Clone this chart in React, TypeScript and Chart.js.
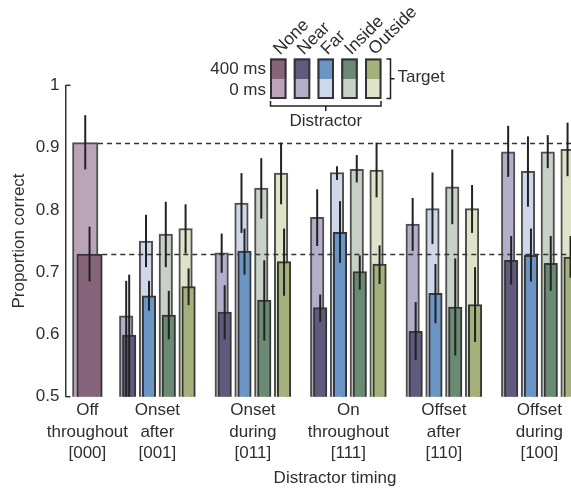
import React, { useEffect, useRef } from "react";
import { Chart, registerables } from "chart.js";

Chart.register(...registerables);

// ---------- data ----------
const timingLabels: string[][] = [
  ["Off", "throughout", "[000]"],
  ["Onset", "after", "[001]"],
  ["Onset", "during", "[011]"],
  ["On", "throughout", "[111]"],
  ["Offset", "after", "[110]"],
  ["Offset", "during", "[100]"],
];
const distractors = ["None", "Near", "Far", "Inside", "Outside"];
const targetDelays = ["400 ms", "0 ms"];
const yTickValues = [0.5, 0.6, 0.7, 0.8, 0.9, 1];

// None (only "Off throughout")
const none0 = [0.908];
const none0Lo = [0.865];
const none0Hi = [0.952];
const none400 = [0.729];
const none400Lo = [0.685];
const none400Hi = [0.773];

// Near / Far / Inside / Outside for groups [001],[011],[111],[110],[100]
const near0 = [0.630, 0.731, 0.788, 0.777, 0.893];
const near0Lo = [0.500, 0.699, 0.742, 0.734, 0.853];
const near0Hi = [0.686, 0.762, 0.833, 0.819, 0.935];
const near400 = [0.599, 0.636, 0.643, 0.605, 0.719];
const near400Lo = [0.500, 0.592, 0.620, 0.559, 0.680];
const near400Hi = [0.696, 0.679, 0.664, 0.652, 0.758];

const far0 = [0.750, 0.811, 0.860, 0.802, 0.862];
const far0Lo = [0.708, 0.763, 0.848, 0.745, 0.805];
const far0Hi = [0.792, 0.859, 0.870, 0.860, 0.918];
const far400 = [0.662, 0.734, 0.764, 0.666, 0.727];
const far400Lo = [0.638, 0.696, 0.715, 0.618, 0.685];
const far400Hi = [0.686, 0.770, 0.814, 0.713, 0.770];

const inside0 = [0.761, 0.835, 0.865, 0.837, 0.893];
const inside0Lo = [0.708, 0.786, 0.844, 0.777, 0.867];
const inside0Hi = [0.813, 0.883, 0.888, 0.897, 0.920];
const inside400 = [0.631, 0.655, 0.701, 0.644, 0.714];
const inside400Lo = [0.592, 0.590, 0.672, 0.566, 0.670];
const inside400Hi = [0.670, 0.719, 0.727, 0.722, 0.758];

const outside0 = [0.770, 0.859, 0.864, 0.802, 0.897];
const outside0Lo = [0.730, 0.809, 0.820, 0.763, 0.854];
const outside0Hi = [0.809, 0.908, 0.908, 0.840, 0.940];
const outside400 = [0.677, 0.717, 0.713, 0.648, 0.724];
const outside400Lo = [0.647, 0.662, 0.681, 0.588, 0.691];
const outside400Hi = [0.706, 0.770, 0.743, 0.708, 0.758];

// ---------- styles / layout ----------
const darkColors = ["#86647a", "#5f5a7e", "#6a95c5", "#6b8a73", "#a4b17b"];
const lightColors = ["#bba4b8", "#b4aecb", "#cfd8ea", "#c8d1c7", "#dfe3c8"];
const FONT = "'Liberation Sans', Arial, Helvetica, sans-serif";
const TEXT = "#2e2e2e";
const groupX = [0.267, 1, 2, 3, 4, 5];
const slotStep = 0.2073;
const pairShift = 0.0157;
const noneShift = 0.0225;

type Series = { idx: number; groups: number[]; v0: number[]; lo0: number[]; hi0: number[]; v4: number[]; lo4: number[]; hi4: number[] };
const allSeries: Series[] = [
  { idx: 0, groups: [0], v0: none0, lo0: none0Lo, hi0: none0Hi, v4: none400, lo4: none400Lo, hi4: none400Hi },
  { idx: 1, groups: [1, 2, 3, 4, 5], v0: near0, lo0: near0Lo, hi0: near0Hi, v4: near400, lo4: near400Lo, hi4: near400Hi },
  { idx: 2, groups: [1, 2, 3, 4, 5], v0: far0, lo0: far0Lo, hi0: far0Hi, v4: far400, lo4: far400Lo, hi4: far400Hi },
  { idx: 3, groups: [1, 2, 3, 4, 5], v0: inside0, lo0: inside0Lo, hi0: inside0Hi, v4: inside400, lo4: inside400Lo, hi4: inside400Hi },
  { idx: 4, groups: [1, 2, 3, 4, 5], v0: outside0, lo0: outside0Lo, hi0: outside0Hi, v4: outside400, lo4: outside400Lo, hi4: outside400Hi },
];

function xPos(group: number, d: number, dark: boolean): number {
  if (d === 0) return groupX[group] + (dark ? noneShift : -noneShift);
  return groupX[group] + (d - 1 - 1.5) * slotStep + (dark ? pairShift : -pairShift);
}

function buildDatasets() {
  const out: any[] = [];
  for (const s of allSeries) {
    const thick = s.idx === 0 ? 25.5 : 13.5;
    out.push({
      label: distractors[s.idx] + " 0 ms",
      data: s.v0.map((v, i) => ({ x: xPos(s.groups[i], s.idx, false), y: v })),
      errLo: s.lo0,
      errHi: s.hi0,
      isDark: false,
      isNone: s.idx === 0,
      backgroundColor: lightColors[s.idx],
      borderColor: "rgba(60,60,60,0.9)",
      borderWidth: 2,
      borderSkipped: false,
      barThickness: thick,
      grouped: false,
      order: 2,
    });
  }
  for (const s of allSeries) {
    const thick = s.idx === 0 ? 25.5 : 13.5;
    out.push({
      label: distractors[s.idx] + " 400 ms",
      data: s.v4.map((v, i) => ({ x: xPos(s.groups[i], s.idx, true), y: v })),
      errLo: s.lo4,
      errHi: s.hi4,
      isDark: true,
      isNone: s.idx === 0,
      backgroundColor: darkColors[s.idx],
      borderColor: "#363636",
      borderWidth: 2,
      borderSkipped: false,
      barThickness: thick,
      grouped: false,
      order: 1,
    });
  }
  return out;
}

function drawDashes(chart: any) {
  const { ctx, chartArea, scales } = chart;
  ctx.save();
  ctx.strokeStyle = "#333";
  ctx.lineWidth = 1.5;
  ctx.setLineDash([5, 4]);
  chart.data.datasets.forEach((ds: any, di: number) => {
    if (!ds.isNone) return;
    const el = chart.getDatasetMeta(di).data[0];
    if (!el) return;
    const y = Math.round(scales.y.getPixelForValue(ds.data[0].y)) + 0.5;
    ctx.beginPath();
    ctx.moveTo(el.x + el.width / 2, y);
    ctx.lineTo(chartArea.right, y);
    ctx.stroke();
  });
  ctx.restore();
}

const overlayPlugin = {
  id: "overlay",
  beforeDatasetsDraw(chart: any) {
    chart.$dashDone = false;
  },
  beforeDatasetDraw(chart: any, args: any) {
    const ds = chart.data.datasets[args.index];
    if (ds.isDark && !chart.$dashDone) {
      drawDashes(chart);
      chart.$dashDone = true;
    }
  },
  afterDatasetsDraw(chart: any) {
    const { ctx, scales, chartArea } = chart;
    ctx.save();
    ctx.strokeStyle = "#222";
    ctx.lineWidth = 2;
    chart.data.datasets.forEach((ds: any, di: number) => {
      const meta = chart.getDatasetMeta(di);
      meta.data.forEach((el: any, i: number) => {
        const y1 = scales.y.getPixelForValue(ds.errLo[i]);
        const y2 = scales.y.getPixelForValue(ds.errHi[i]);
        ctx.beginPath();
        ctx.moveTo(el.x, Math.min(y1, chartArea.bottom));
        ctx.lineTo(el.x, y2);
        ctx.stroke();
      });
    });
    // inward tick stubs at axis ends
    ctx.strokeStyle = "#333";
    ctx.lineWidth = 1.5;
    const ax = chartArea.left;
    [scales.y.getPixelForValue(1), scales.y.getPixelForValue(0.5)].forEach((py: number) => {
      ctx.beginPath();
      ctx.moveTo(ax, py);
      ctx.lineTo(ax + 4.5, py);
      ctx.stroke();
    });
    ctx.restore();
  },
  afterDraw(chart: any) {
    const ctx = chart.ctx;
    const left = 270;
    const step = 23.75;
    const w = 16.5;
    const top = 58.5;
    const mid = 79;
    const bot = 99;
    ctx.save();
    ctx.font = `17px ${FONT}`;
    ctx.fillStyle = TEXT;
    for (let i = 0; i < distractors.length; i++) {
      const x = left + i * step;
      ctx.fillStyle = darkColors[i];
      ctx.fillRect(x, top, w, mid - top);
      ctx.fillStyle = lightColors[i];
      ctx.fillRect(x, mid, w, bot - mid);
      ctx.strokeStyle = "#333";
      ctx.lineWidth = 2;
      ctx.strokeRect(x + 1, top + 1, w - 2, bot - top - 2);
      ctx.save();
      ctx.translate(x + 10, top - 3);
      ctx.rotate(-Math.PI / 4);
      ctx.fillStyle = TEXT;
      ctx.textAlign = "left";
      ctx.textBaseline = "alphabetic";
      ctx.font = `17.5px ${FONT}`;
      ctx.fillText(distractors[i], 0, 0);
      ctx.restore();
    }
    ctx.fillStyle = TEXT;
    ctx.textAlign = "right";
    ctx.textBaseline = "middle";
    ctx.fillText(targetDelays[0], 266, 69.5);
    ctx.fillText(targetDelays[1], 266, 90);
    // right bracket (Target)
    const right = left + (distractors.length - 1) * step + w;
    ctx.strokeStyle = "#222";
    ctx.lineWidth = 1.5;
    ctx.beginPath();
    ctx.moveTo(right + 5, top + 0.5);
    ctx.lineTo(right + 9, top + 0.5);
    ctx.lineTo(right + 9, bot - 0.5);
    ctx.lineTo(right + 5, bot - 0.5);
    ctx.moveTo(right + 9, (top + bot) / 2);
    ctx.lineTo(right + 13, (top + bot) / 2);
    ctx.stroke();
    ctx.textAlign = "left";
    ctx.fillText("Target", right + 16, 77.5);
    // bottom bracket (Distractor)
    const cx = (left + right) / 2;
    ctx.beginPath();
    ctx.moveTo(left + 0.5, bot + 2);
    ctx.lineTo(left + 0.5, bot + 7);
    ctx.lineTo(right - 0.5, bot + 7);
    ctx.lineTo(right - 0.5, bot + 2);
    ctx.moveTo(cx, bot + 7);
    ctx.lineTo(cx, bot + 12);
    ctx.stroke();
    ctx.textAlign = "center";
    ctx.fillText("Distractor", cx, 121.5);
    ctx.restore();
  },
};

export default function App() {
  const ref = useRef<HTMLCanvasElement | null>(null);
  useEffect(() => {
    if (!ref.current) return;
    Chart.defaults.font.family = FONT;
    Chart.defaults.color = TEXT;
    const chart = new Chart(ref.current, {
      type: "bar",
      data: { datasets: buildDatasets() as any },
      options: {
        animation: false,
        responsive: false,
        layout: { padding: { top: 85.3, left: 0, right: 0, bottom: 0 } },
        plugins: { legend: { display: false }, tooltip: { enabled: false } },
        scales: {
          x: {
            type: "linear",
            min: 0.043,
            max: 5.677,
            offset: false,
            grid: { display: false, drawTicks: false },
            border: { display: false },
            afterBuildTicks: (s: any) => {
              s.ticks = groupX.map((v) => ({ value: v }));
            },
            afterFit: (s: any) => {
              s.height = 93.3;
              s.paddingLeft = 0;
              s.paddingRight = 0;
            },
            ticks: {
              autoSkip: false,
              maxRotation: 0,
              minRotation: 0,
              padding: 3.4,
              color: TEXT,
              font: { size: 17, lineHeight: 1.25 },
              callback: (_v: any, i: number) => timingLabels[i],
            },
            title: {
              display: true,
              text: "Distractor timing",
              color: TEXT,
              font: { size: 17, lineHeight: 1.2 },
              padding: { top: 0, bottom: 1.5 },
            },
          } as any,
          y: {
            type: "linear",
            min: 0.5,
            max: 1,
            grid: { display: false, drawTicks: false },
            border: { display: true, color: "#333", width: 1.5 },
            afterBuildTicks: (s: any) => {
              s.ticks = yTickValues.map((v) => ({ value: v }));
            },
            afterFit: (s: any) => {
              s.width = 66;
            },
            ticks: {
              padding: 6.5,
              color: TEXT,
              font: { size: 17 },
              callback: (v: any) => (Math.abs(Number(v) - 1) < 1e-9 ? "1" : Number(v).toFixed(1)),
            },
            title: {
              display: true,
              text: "Proportion correct",
              color: TEXT,
              font: { size: 17, lineHeight: 1.2 },
              padding: { top: 9.2, bottom: 0 },
            },
          } as any,
        },
      },
      plugins: [overlayPlugin as any],
    });
    return () => chart.destroy();
  }, []);
  return (
    <div style={{ position: "absolute", left: 0, top: 0, width: 571, height: 490, overflow: "hidden", background: "#fff" }}>
      <canvas ref={ref} width={604} height={490} style={{ display: "block" }} />
    </div>
  );
}
